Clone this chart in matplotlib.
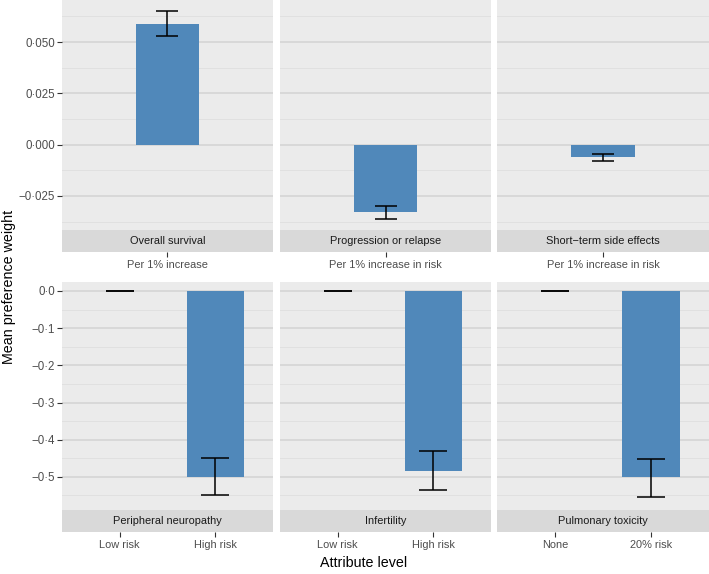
import matplotlib
matplotlib.use("Agg")
import matplotlib.pyplot as plt

plt.rcParams['font.family'] = ['Liberation Sans', 'DejaVu Sans']

# ---- data ----
top_strips = ["Overall survival", "Progression or relapse", "Short\u2212term side effects"]
top_levels = ["Per 1% increase", "Per 1% increase in risk", "Per 1% increase in risk"]
top_means = [0.0588, -0.0330, -0.0062]
top_lower = [0.0528, -0.0362, -0.0078]
top_upper = [0.0651, -0.0299, -0.0047]
top_yticks = [0.050, 0.025, 0.000, -0.025]
top_yticklabels = ["0\u00b7050", "0\u00b7025", "0\u00b7000", "\u22120\u00b7025"]

bot_strips = ["Peripheral neuropathy", "Infertility", "Pulmonary toxicity"]
bot_levels = [["Low risk", "High risk"], ["Low risk", "High risk"], ["None", "20% risk"]]
bot_means = [[0.0, -0.500], [0.0, -0.484], [0.0, -0.501]]
bot_lower = [[0.0, -0.550], [0.0, -0.536], [0.0, -0.553]]
bot_upper = [[0.0, -0.450], [0.0, -0.431], [0.0, -0.451]]
bot_yticks = [0.0, -0.1, -0.2, -0.3, -0.4, -0.5]
bot_yticklabels = ["0\u00b70", "\u22120\u00b71", "\u22120\u00b72", "\u22120\u00b73", "\u22120\u00b74", "\u22120\u00b75"]

# ---- style ----
W, H = 709, 574
BAR = "#5088BA"
PANEL = "#EBEBEB"
STRIP = "#D9D9D9"
GRID_MAJ = "#D3D3D3"
GRID_MIN = "#DEDEDE"
TICKC = "#333333"
LABC = "#4D4D4D"

fig = plt.figure(figsize=(W / 100, H / 100), dpi=100)
fig.patch.set_facecolor("white")

panel_x = [(62, 273), (280, 491), (497, 709)]
rows = [
    dict(plot=(0, 230), strip=(230, 252)),
    dict(plot=(281.7, 510), strip=(510, 532)),
]


def frac(x0, x1, y0, y1):
    return [x0 / W, 1 - y1 / H, (x1 - x0) / W, (y1 - y0) / H]


for r in range(2):
    py0, py1 = rows[r]["plot"]
    sy0, sy1 = rows[r]["strip"]
    for c in range(3):
        x0, x1 = panel_x[c]
        ax = fig.add_axes(frac(x0, x1, py0, py1))
        ax.set_facecolor(PANEL)
        for s in ax.spines.values():
            s.set_visible(False)
        sax = fig.add_axes(frac(x0, x1, sy0, sy1))
        sax.set_facecolor(STRIP)
        for s in sax.spines.values():
            s.set_visible(False)
        sax.set_yticks([])

        if r == 0:
            cats = [top_levels[c]]
            xs = [0]
            means = [top_means[c]]
            lo = [top_means[c] - top_lower[c]]
            hi = [top_upper[c] - top_means[c]]
            xlim = (-1.0, 1.0)
            ylim = (-0.0416, 0.0705)
            yt = top_yticks
            ytl = top_yticklabels
            minor = [0.0625, 0.0375, 0.0125, -0.0125, -0.0375]
            capsize = 7.6
            strip = top_strips[c]
        else:
            cats = bot_levels[c]
            xs = list(range(len(cats)))
            means = bot_means[c]
            lo = [m - l for m, l in zip(bot_means[c], bot_lower[c])]
            hi = [u - m for m, u in zip(bot_means[c], bot_upper[c])]
            xlim = (-0.6, 1.6)
            ylim = (-0.589, 0.025)
            yt = bot_yticks
            ytl = bot_yticklabels
            minor = [-0.05, -0.15, -0.25, -0.35, -0.45, -0.55]
            capsize = 10.4
            strip = bot_strips[c]

        # gridlines
        for v in minor:
            ax.axhline(v, color=GRID_MIN, lw=0.6, zorder=0)
        for v in yt:
            ax.axhline(v, color=GRID_MAJ, lw=1.1, zorder=0)

        ax.bar(xs, means, width=0.6, color=BAR, zorder=2, linewidth=0)
        ax.errorbar(xs, means, yerr=[lo, hi], fmt="none", ecolor="black",
                    elinewidth=1.1, capsize=capsize, capthick=1.1, zorder=3)

        ax.set_xlim(*xlim)
        ax.set_ylim(*ylim)
        ax.set_xticks([])
        if c == 0:
            ax.set_yticks(yt)
            ax.set_yticklabels(ytl)
            ax.tick_params(axis="y", length=3.5, width=0.8, color=TICKC,
                           labelcolor=LABC, labelsize=8.3, pad=1.5)
        else:
            ax.set_yticks([])

        sax.set_xlim(*xlim)
        sax.set_ylim(0, 1)
        sax.set_xticks(xs)
        sax.set_xticklabels(cats)
        sax.tick_params(axis="x", length=3.5, width=0.8, color=TICKC,
                        labelcolor=LABC, labelsize=7.9, pad=2)
        sax.text(0.5, 0.5, strip, transform=sax.transAxes, ha="center",
                 va="center", fontsize=7.9, color="#1A1A1A")

fig.text(9 / W, 1 - 287 / H, "Mean preference weight", rotation=90,
         ha="center", va="center", fontsize=10.3, color="black")
fig.text(364 / W, 1 - 563 / H, "Attribute level", ha="center", va="center",
         fontsize=10.3, color="black")

fig.savefig("out.png", dpi=100, facecolor="white")
